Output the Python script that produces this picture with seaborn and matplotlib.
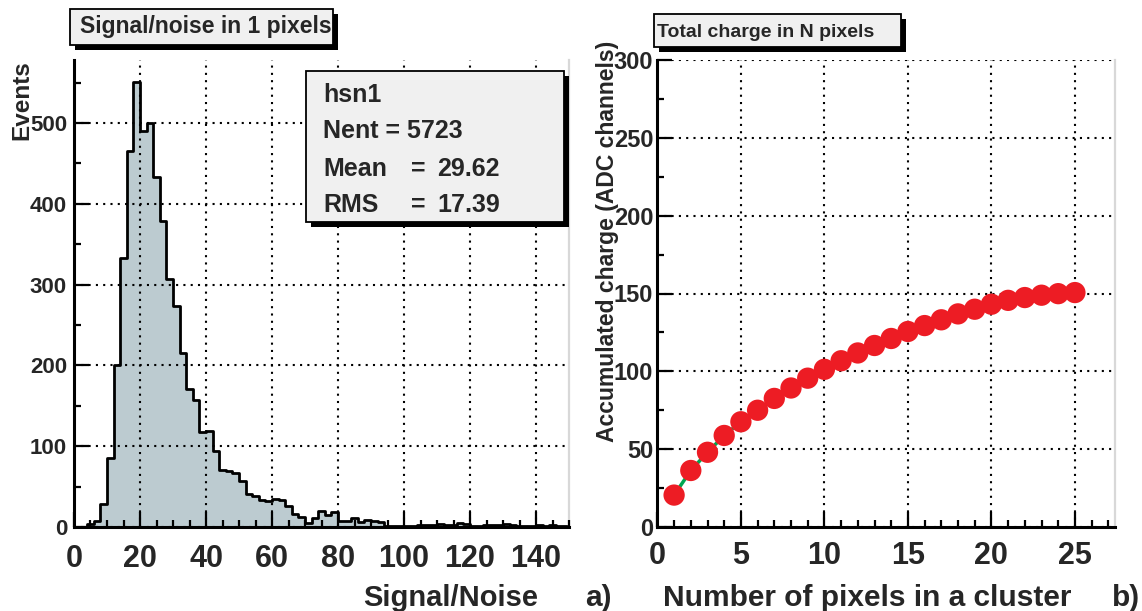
import numpy as np
import pandas as pd
import matplotlib
matplotlib.use("Agg")
import matplotlib.pyplot as plt
from matplotlib.patches import Rectangle
from matplotlib.ticker import MultipleLocator
import seaborn as sns

# ---------------- data ----------------
# panel a) : Signal/noise histogram, 75 bins of width 2 from 0 to 150
sn_bin_edges = [float(v) for v in np.arange(0, 152, 2)]
sn_counts = [
    0, 0, 4, 8, 29, 85, 200, 333, 465, 551,
    490, 500, 433, 379, 307, 274, 215, 171, 157, 117,
    119, 94, 71, 69, 67, 57, 41, 38, 34, 32,
    35, 33, 26, 16, 12, 5, 11, 20, 15, 18,
    8, 8, 11, 6, 9, 8, 6, 1, 1, 1,
    1, 1, 3, 2, 2, 4, 2, 3, 5, 4,
    1, 1, 3, 3, 2, 4, 2, 1, 1, 1,
    2, 1, 3, 1, 1,
]
stats_name = "hsn1"
stats_nent = 5723
stats_mean = 29.62
stats_rms = 17.39

# panel b) : accumulated charge vs number of pixels
n_pixels = list(range(1, 26))
charge = [20.5, 36.3, 48.0, 58.8, 67.6, 75.0, 82.6, 89.3, 95.6, 101.3,
          106.8, 111.8, 116.6, 121.1, 125.6, 129.4, 133.1, 136.9, 139.9, 143.1,
          145.6, 147.4, 148.9, 149.9, 150.6]

# ---------------- style ----------------
sns.set_style("ticks")
plt.rcParams['font.family'] = ['Liberation Sans', 'DejaVu Sans']
plt.rcParams['font.weight'] = 'bold'
plt.rcParams['axes.labelweight'] = 'bold'

W, H = 1142, 611
fig = plt.figure(figsize=(W / 100, H / 100), dpi=100)
fig.patch.set_facecolor('white')


def fx(px):
    return px / W


def fy(py):
    return 1 - py / H


axL = fig.add_axes([fx(74), fy(527), fx(569) - fx(74), fy(60) - fy(527)])
axR = fig.add_axes([fx(657.4), fy(527), fx(1115) - fx(657.4), fy(60) - fy(527)])

# ---- panel a ----
centers = [(a + b) / 2 for a, b in zip(sn_bin_edges[:-1], sn_bin_edges[1:])]
df_a = pd.DataFrame({"sn": centers, "events": sn_counts})
sns.histplot(data=df_a, x="sn", weights="events", bins=sn_bin_edges,
             element="step", fill=True, color="#bccbd0", alpha=1,
             edgecolor="black", linewidth=2.0, ax=axL)
axL.set_xlim(0, 150)
axL.set_ylim(0, 578)
axL.xaxis.set_major_locator(MultipleLocator(20))
axL.xaxis.set_minor_locator(MultipleLocator(5))
axL.yaxis.set_major_locator(MultipleLocator(100))
axL.yaxis.set_minor_locator(MultipleLocator(50))

# ---- panel b ----
df_b = pd.DataFrame({"n": n_pixels, "q": charge})
sns.lineplot(data=df_b, x="n", y="q", color="#00a651", linewidth=2.5, ax=axR, zorder=3)
sns.scatterplot(data=df_b, x="n", y="q", color="#ed1c24", s=235, edgecolor="none",
                linewidth=0, ax=axR, zorder=4, clip_on=False)
axR.set_xlim(0, 27.4)
axR.set_ylim(0, 300)
axR.xaxis.set_major_locator(MultipleLocator(5))
axR.xaxis.set_minor_locator(MultipleLocator(1))
axR.yaxis.set_major_locator(MultipleLocator(50))
axR.yaxis.set_minor_locator(MultipleLocator(25))

for ax in (axL, axR):
    ax.set_xlabel("")
    ax.set_ylabel("")
    ax.set_facecolor("white")
    ax.set_axisbelow(False)
    ax.grid(True, which="major", linestyle=(0, (1, 2.5)), color="black", linewidth=1.5)
    ax.tick_params(which="both", direction="in", top=False, right=False,
                   color="black", width=1.6)
    ax.tick_params(which="major", length=11)
    ax.tick_params(which="minor", length=5)
    ax.spines["top"].set_visible(False)
    ax.spines["right"].set_color("#d8d8d8")
    ax.spines["right"].set_linewidth(1.6)
    for s in ("left", "bottom"):
        ax.spines[s].set_color("black")
        ax.spines[s].set_linewidth(2.2)
        ax.spines[s].set_zorder(5)
    for lab in ax.get_xticklabels() + ax.get_yticklabels():
        lab.set_fontweight("bold")

axL.tick_params(axis="x", labelsize=22, pad=12)
axL.tick_params(axis="y", labelsize=16, pad=5)
axR.tick_params(axis="x", labelsize=22, pad=10)
axR.tick_params(axis="y", labelsize=17, pad=3)

# ---- axis titles ----
fig.text(fx(451), fy(606), "Signal/Noise", fontsize=21, fontweight="bold",
         ha="center", va="baseline")
fig.text(fx(585), fy(606), "a)", fontsize=21.5, fontweight="bold", ha="left", va="baseline")
fig.text(fx(867), fy(606), "Number of pixels in a cluster", fontsize=21.5,
         fontweight="bold", ha="center", va="baseline")
fig.text(fx(1112), fy(606), "b)", fontsize=21.5, fontweight="bold", ha="left", va="baseline")
fig.text(fx(22), fy(100), "Events", fontsize=17.5, fontweight="bold", rotation=90,
         ha="center", va="center")
fig.text(fx(607.5), fy(241.5), "Accumulated charge (ADC channels)", fontsize=16.5,
         fontweight="bold", rotation=90, ha="center", va="center")


# ---- ROOT-like boxes with shadow ----
def shadow_box(x0, y0, x1, y1, sh=5):
    fig.add_artist(Rectangle((fx(x0 + sh), fy(y1 + sh)), fx(x1 - x0), fy(y0) - fy(y1),
                             transform=fig.transFigure, facecolor="black",
                             edgecolor="none", zorder=10))
    fig.add_artist(Rectangle((fx(x0), fy(y1)), fx(x1 - x0), fy(y0) - fy(y1),
                             transform=fig.transFigure, facecolor="#f0f0f0",
                             edgecolor="black", linewidth=1.3, zorder=11))


shadow_box(70, 9, 333, 45)
fig.text(fx(80), fy(33.5), "Signal/noise in 1 pixels", fontsize=16.5, fontweight="bold",
         ha="left", va="baseline", zorder=12)

shadow_box(654, 14, 901, 47)
fig.text(fx(657), fy(37), "Total charge in N pixels", fontsize=14, fontweight="bold",
         ha="left", va="baseline", zorder=12)

shadow_box(306, 71, 563.5, 222)
tkw = dict(fontsize=18, fontweight="bold", ha="left", va="baseline", zorder=12)
fig.text(fx(323), fy(101.6), stats_name, **tkw)
fig.text(fx(323), fy(137.8), f"Nent = {stats_nent}", **tkw)
fig.text(fx(323), fy(176), "Mean", **tkw)
fig.text(fx(411), fy(176), "=", **tkw)
fig.text(fx(437), fy(176), f"{stats_mean:.2f}", **tkw)
fig.text(fx(323), fy(212), "RMS", **tkw)
fig.text(fx(411), fy(212), "=", **tkw)
fig.text(fx(437), fy(212), f"{stats_rms:.2f}", **tkw)

fig.savefig("out.png", dpi=100, facecolor="white")
